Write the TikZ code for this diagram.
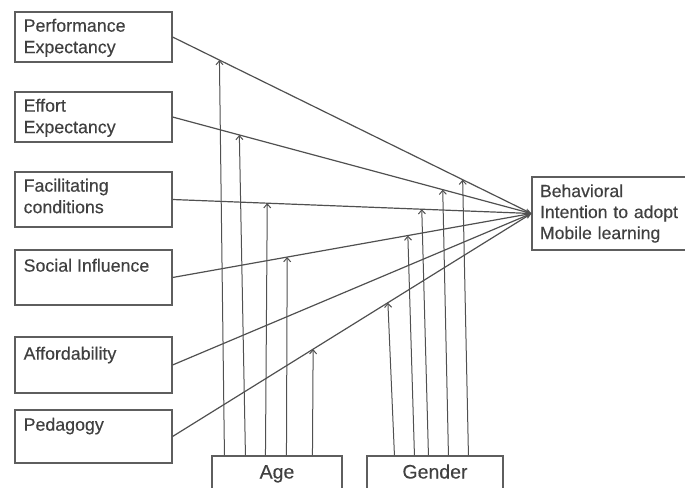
\documentclass[tikz,border=0pt]{standalone}
\usepackage{fontspec}
\setmainfont[FakeBold=0.35]{Liberation Sans}
\usetikzlibrary{arrows.meta}
\definecolor{inkline}{HTML}{505050}
\definecolor{inkbox}{HTML}{5E5E5E}
\definecolor{inktext}{HTML}{404040}
\begin{document}
\begin{tikzpicture}[x=1pt,y=-1pt,
  factor/.style={draw=inkbox,line width=1.1pt,minimum width=157pt,inner sep=0pt},
  factortext/.style={anchor=north west,inner sep=0pt,align=left,text=inktext,
    font=\fontsize{17.8}{21.5}\selectfont},
  moderator/.style={draw=inkbox,line width=1.1pt,inner sep=0pt,text=inktext,
    font=\fontsize{19.5}{23}\selectfont,text height=14pt,text depth=3pt},
  effect/.style={draw=inkline,line width=1.2pt,-{Stealth[length=6pt,width=5pt]}},
  modarrow/.style={draw=inkline,line width=1pt,-{Straight Barb[length=4pt,width=7pt]}}]
\useasboundingbox (0,0) rectangle (685,487);

% predictor boxes
\node[factor,minimum height=50pt] (pe) at (93.5,37) {};
\node[factortext] (pe-t) at ([xshift=9pt,yshift=-6pt]pe.north west)
  {\rule{0pt}{14pt}Performance\\Expectancy};
\node[factor,minimum height=50pt] (ee) at (93.5,117) {};
\node[factortext] (ee-t) at ([xshift=9pt,yshift=-6pt]ee.north west)
  {\rule{0pt}{14pt}Effort\\Expectancy};
\node[factor,minimum height=55pt] (fc) at (93.5,199.5) {};
\node[factortext] (fc-t) at ([xshift=9pt,yshift=-6pt]fc.north west)
  {\rule{0pt}{14pt}Facilitating\\conditions};
\node[factor,minimum height=55pt] (si) at (93.5,277.5) {};
\node[factortext] (si-t) at ([xshift=9pt,yshift=-8pt]si.north west)
  {\rule{0pt}{14pt}Social Influence};
\node[factor,minimum height=56pt] (af) at (93.5,365) {};
\node[factortext] (af-t) at ([xshift=9pt,yshift=-9pt]af.north west)
  {\rule{0pt}{14pt}Affordability};
\node[factor,minimum height=53pt] (pg) at (93.5,436.5) {};
\node[factortext] (pg-t) at ([xshift=9pt,yshift=-7pt]pg.north west)
  {\rule{0pt}{14pt}Pedagogy};

% outcome box
\node[draw=inkbox,line width=1.1pt,minimum width=158pt,minimum height=73pt,
  text width=142pt,inner xsep=8pt,inner ysep=0pt,align=left,text=inktext,
  font=\fontsize{17.6}{21}\selectfont] (bi) at (611,213.5)
  {Behavioral\\Intention to adopt\\Mobile learning};

% moderator boxes
\node[moderator,minimum width=130pt,minimum height=34pt] (age) at (277,473) {Age};
\node[moderator,minimum width=136pt,minimum height=34pt] (gen) at (435,473) {Gender};

% direct effects
\foreach \s in {pe,ee,fc,si,af,pg}
  \draw[effect] (\s.east) -- (bi.west);

% points where the moderating arrows meet the effects
\path (pe.east) -- (bi.west) coordinate[pos=0.1306] (a1) coordinate[pos=0.8083] (g5);
\path (ee.east) -- (bi.west) coordinate[pos=0.1861] (a2) coordinate[pos=0.7528] (g4);
\path (fc.east) -- (bi.west) coordinate[pos=0.2639] (a3) coordinate[pos=0.6944] (g3);
\path (si.east) -- (bi.west) coordinate[pos=0.3194] (a4) coordinate[pos=0.6556] (g2);
\path (pg.east) -- (bi.west) coordinate[pos=0.3917] (a5) coordinate[pos=0.6000] (g1);

% moderation by age
\draw[modarrow] ([xshift=13pt]age.north west) -- (a1);
\draw[modarrow] ([xshift=34pt]age.north west) -- (a2);
\draw[modarrow] ([xshift=54pt]age.north west) -- (a3);
\draw[modarrow] ([xshift=75pt]age.north west) -- (a4);
\draw[modarrow] ([xshift=101pt]age.north west) -- (a5);

% moderation by gender
\draw[modarrow] ([xshift=28pt]gen.north west) -- (g1);
\draw[modarrow] ([xshift=48pt]gen.north west) -- (g2);
\draw[modarrow] ([xshift=62pt]gen.north west) -- (g3);
\draw[modarrow] ([xshift=82pt]gen.north west) -- (g4);
\draw[modarrow] ([xshift=102pt]gen.north west) -- (g5);
\end{tikzpicture}
\end{document}
